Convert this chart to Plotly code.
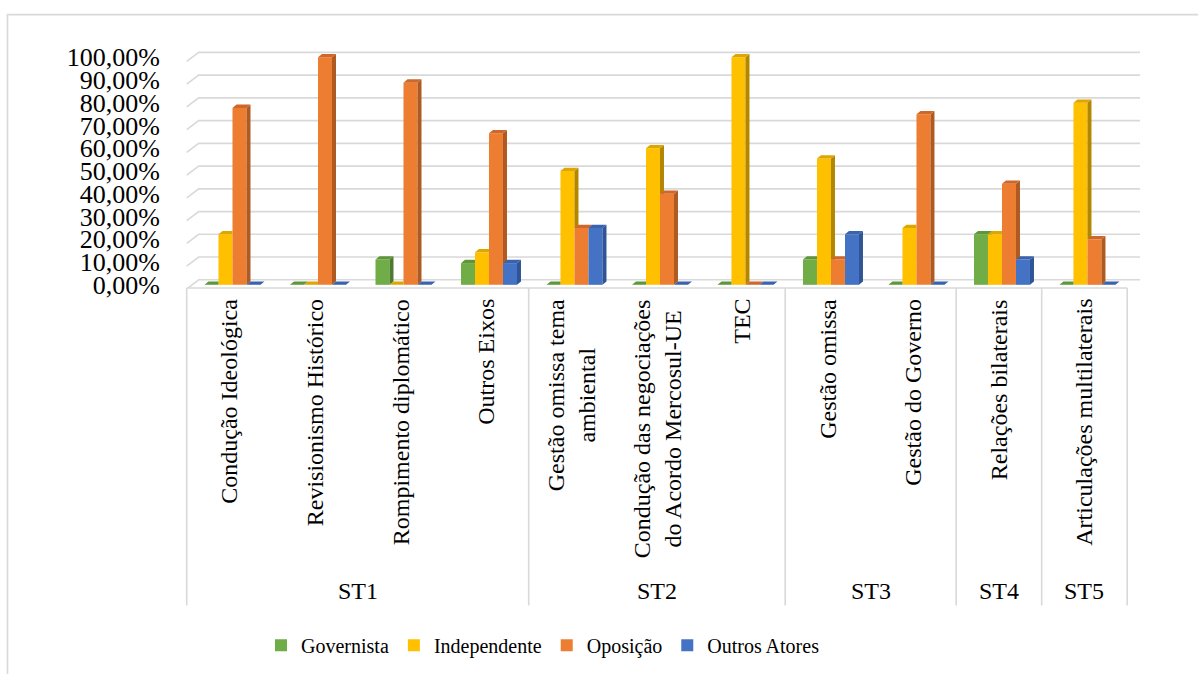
import plotly.graph_objects as go

# ---- data -------------------------------------------------------------
groups = ["ST1", "ST2", "ST3", "ST4", "ST5"]
group_sizes = [4, 3, 2, 1, 1]
categories = [
    "Condução Ideológica",
    "Revisionismo Histórico",
    "Rompimento diplomático",
    "Outros Eixos",
    "Gestão omissa tema<br>ambiental",
    "Condução das negociações<br>do Acordo Mercosul-UE",
    "TEC",
    "Gestão omissa",
    "Gestão do Governo",
    "Relações bilaterais",
    "Articulações multilaterais",
]
series_names = ["Governista", "Independente", "Oposição", "Outros Atores"]
governista = [0, 0, 11.11, 9.52, 0, 0, 0, 11.11, 0, 22.22, 0]
independente = [22.22, 0, 0, 14.29, 50, 60, 100, 55.56, 25, 22.22, 80]
oposicao = [77.78, 100, 88.89, 66.67, 25, 40, 0, 11.11, 75, 44.44, 20]
outros_atores = [0, 0, 0, 9.52, 25, 0, 0, 22.22, 0, 11.11, 0]
y_ticks = [0, 10, 20, 30, 40, 50, 60, 70, 80, 90, 100]
y_ticktext = [f"{v:.2f}".replace(".", ",") + "%" for v in y_ticks]

series_values = [governista, independente, oposicao, outros_atores]
front_colors = ["#70AD47", "#FFC000", "#ED7D31", "#4472C4"]
top_colors = ["#5E9638", "#DDA600", "#D0672A", "#3A63AD"]
side_colors = ["#4E7A31", "#B38600", "#AE5A21", "#2F5597"]

# ---- page geometry (pixels) -------------------------------------------
W, H = 1198, 674
L, R = 185.0, 1140.0          # plot area left / right
T, B = 45.9, 288.2            # plot area top / bottom
X_RANGE = [-0.52, 10.65]
Y_RANGE = [-1.4, 105.0]
FONT = "Liberation Serif, Times New Roman, Tinos, DejaVu Serif, serif"

def py(px):
    """pixel row -> paper y"""
    return (B - px) / (B - T)

def px_x(px):
    """pixel column -> paper x"""
    return (px - L) / (R - L)

x_unit = (R - L) / (X_RANGE[1] - X_RANGE[0])
y_unit = (B - T) / (Y_RANGE[1] - Y_RANGE[0])

bar_w = 14.0 / x_unit
first_offset = -0.292
depth_x = 4.0 / x_unit
depth_y = 3.3 / y_unit

xs = list(range(len(categories)))

fig = go.Figure()

# front faces of the bars
for k, (name, vals) in enumerate(zip(series_names, series_values)):
    fig.add_trace(go.Bar(
        x=xs, y=vals, name=name,
        width=bar_w, offset=first_offset + k * bar_w,
        marker=dict(color=front_colors[k], line=dict(width=0)),
        hovertemplate="%{y:.2f}%<extra>" + name + "</extra>",
    ))


def clip_above(poly, level):
    out = []
    n = len(poly)
    for i in range(n):
        p, q = poly[i], poly[(i + 1) % n]
        pin, qin = p[1] >= level, q[1] >= level
        if pin:
            out.append(p)
        if pin != qin:
            t = (level - p[1]) / (q[1] - p[1])
            out.append((p[0] + t * (q[0] - p[0]), level))
    return out


# side and top faces give the bars their depth
for k, vals in enumerate(series_values):
    nxt = series_values[k + 1] if k + 1 < len(series_values) else None
    sx, sy, tx, ty = [], [], [], []
    for i, v in enumerate(vals):
        xl = i + first_offset + k * bar_w
        xr = xl + bar_w
        n = nxt[i] if nxt is not None else -1e9
        side = [(xr, 0), (xr + depth_x, depth_y), (xr + depth_x, v + depth_y), (xr, v)]
        side = clip_above(side, n)
        if len(side) >= 3:
            for p in side:
                sx.append(p[0]); sy.append(p[1])
            sx.append(None); sy.append(None)
        if nxt is not None and n > v:
            top = [(xl, v), (xl + depth_x, v + depth_y), (xr, v + depth_y), (xr, v)]
        else:
            top = [(xl, v), (xl + depth_x, v + depth_y), (xr + depth_x, v + depth_y), (xr, v)]
        for p in top:
            tx.append(p[0]); ty.append(p[1])
        tx.append(None); ty.append(None)
    fig.add_trace(go.Scatter(x=sx, y=sy, mode="lines", fill="toself",
                             fillcolor=side_colors[k], line=dict(width=0, color=side_colors[k]),
                             hoverinfo="skip", showlegend=False))
    fig.add_trace(go.Scatter(x=tx, y=ty, mode="lines", fill="toself",
                             fillcolor=top_colors[k], line=dict(width=0, color=top_colors[k]),
                             hoverinfo="skip", showlegend=False))

shapes = []
grid_color = "#D9D9D9"

# back-wall gridlines with a short slanted lead-in on the left
for v in y_ticks:
    y_front = v - 1.8
    y_back = v + 2.2
    shapes.append(dict(
        type="path", xref="x", yref="y", layer="below",
        path=f"M {-0.5},{y_front} L {-0.5 + 12 / x_unit},{y_back} L {X_RANGE[1]},{y_back}",
        line=dict(color=grid_color, width=1.6),
    ))

# category table below the plot
bounds = [-0.5]
acc = -0.5
for s in group_sizes:
    acc += s
    bounds.append(acc)
for b in bounds:
    shapes.append(dict(type="line", xref="x", yref="paper", x0=b, x1=b,
                       y0=py(288.2), y1=py(606), line=dict(color=grid_color, width=1.6)))
shapes.append(dict(type="line", xref="x", yref="paper", x0=-0.5, x1=10.5,
                   y0=py(288.2), y1=py(288.2), line=dict(color=grid_color, width=1.6)))

# chart frame
shapes.append(dict(type="path", xref="paper", yref="paper",
                   path=f"M {px_x(7.5)},{py(700)} L {px_x(7.5)},{py(14.5)} L {px_x(1230)},{py(14.5)}",
                   line=dict(color=grid_color, width=1.6)))

annotations = []
for i, label in enumerate(categories):
    annotations.append(dict(
        x=i, xref="x", y=py(297), yref="paper",
        text=label, textangle=-90, showarrow=False,
        xanchor="center", yanchor="top", align="center",
        font=dict(family=FONT, size=24, color="#000000"),
    ))

start = 0
for g, s in zip(groups, group_sizes):
    center = start + (s - 1) / 2
    annotations.append(dict(
        x=center, xref="x", y=py(592), yref="paper",
        text=g, showarrow=False, xanchor="center", yanchor="middle",
        font=dict(family=FONT, size=24, color="#000000"),
    ))
    start += s

fig.update_layout(
    width=W, height=H,
    margin=dict(l=L, r=W - R, t=T, b=H - B, autoexpand=False),
    paper_bgcolor="white", plot_bgcolor="white",
    barmode="group",
    font=dict(family=FONT, color="#000000"),
    xaxis=dict(range=X_RANGE, showticklabels=False, showgrid=False,
               zeroline=False, showline=False, ticks=""),
    yaxis=dict(range=Y_RANGE, tickmode="array", tickvals=y_ticks, ticktext=y_ticktext,
               showgrid=False, zeroline=False, showline=False, ticks="",
               ticklabelstandoff=24,
               tickfont=dict(family=FONT, size=26, color="#000000")),
    legend=dict(orientation="h", x=px_x(543), xanchor="center",
                y=py(646), yanchor="middle",
                font=dict(family=FONT, size=20, color="#000000"),
                itemwidth=30, traceorder="normal"),
    shapes=shapes,
    annotations=annotations,
)

fig.write_html("out.html")
